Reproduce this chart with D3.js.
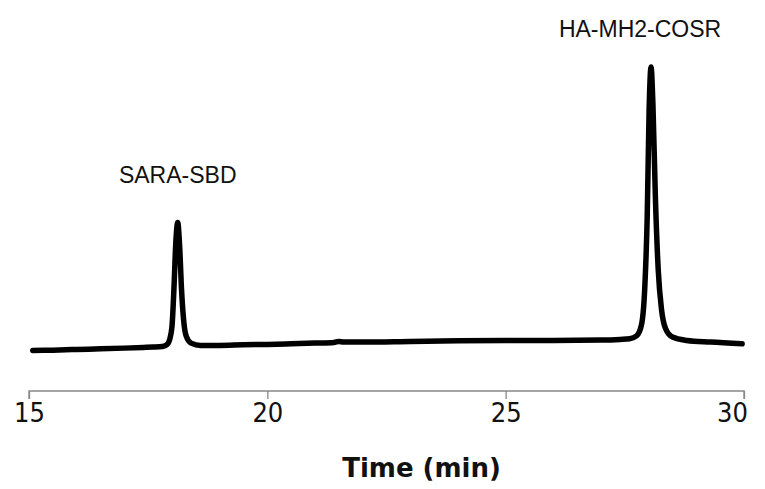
<!DOCTYPE html>
<html>
<head>
<meta charset="utf-8">
<script src="https://cdn.jsdelivr.net/npm/d3@7"></script>
<style>
  body { margin: 0; background: #fff; }
  svg { display: block; }
</style>
</head>
<body>
<svg id="chart"></svg>
<script>
// Chromatogram trace (time in min, signal in arbitrary units)
var times = [
    15.08, 15.5, 16.0, 16.5, 17.0, 17.4, 17.6, 17.8, 17.9, 17.95,
    18.0, 18.04, 18.08, 18.12, 18.16, 18.2, 18.25, 18.3, 18.4, 18.6,
    19.0, 19.5, 20.0, 20.5, 21.0, 21.4, 21.5, 21.6, 22.0, 23.0,
    24.0, 25.0, 26.0, 27.0, 27.4, 27.6, 27.75, 27.85, 27.92, 27.97,
    28.01, 28.05, 28.09, 28.14, 28.2, 28.27, 28.35, 28.5, 28.8, 29.3,
    29.96
];
var signal = [
    11.8, 11.9, 12.1, 12.3, 12.5, 12.7, 12.8, 13.0, 13.6, 15.0,
    19.0, 30.0, 44.0, 50.0, 43.0, 30.0, 20.0, 16.0, 14.0, 13.3,
    13.3, 13.5, 13.6, 13.8, 14.0, 14.2, 14.5, 14.3, 14.3, 14.5,
    14.7, 14.8, 14.8, 14.9, 15.1, 15.3, 16.2, 19.5, 31.0, 52.0,
    84.0, 96.4, 85.0, 58.0, 36.0, 24.0, 18.5, 15.8, 14.8, 14.3,
    13.8
];

// Peak labels
var peakNames = ["SARA-SBD", "HA-MH2-COSR"];
var peakTimes = [18.12, 28.05];

var xTicks = [15, 20, 25, 30];
var xTitle = "Time (min)";

var width = 765, height = 489;
var svg = d3.select("#chart")
    .attr("width", width)
    .attr("height", height);

// Scales
var x = d3.scaleLinear()
    .domain([15, 30])
    .range([29, 744]);

var y = d3.scaleLinear()
    .domain([0, 100])
    .range([390, 55]);

var trace = times.map(function(t, i) { return [t, signal[i]]; });

// X axis
var xAxis = d3.axisBottom(x)
    .tickValues(xTicks)
    .tickSize(8)
    .tickPadding(4)
    .tickFormat(d3.format("d"));

var axisG = svg.append("g")
    .attr("transform", "translate(0," + 391 + ")")
    .call(xAxis);

axisG.select(".domain")
    .attr("stroke", "#888")
    .attr("stroke-width", 1.3)
    .attr("d", "M" + x(15) + ",8V0H" + x(30) + "V8");
axisG.selectAll(".tick line")
    .attr("stroke", "#888")
    .attr("stroke-width", 1.3);
axisG.selectAll(".tick text")
    .attr("fill", "#111")
    .attr("dx", function(d) { return d == 30 ? -12 : 0; })
    .style("font-family", "'DejaVu Sans Condensed', 'DejaVu Sans', Verdana, sans-serif")
    .style("font-size", "27px");

// Axis title
svg.append("text")
    .attr("x", (x(15) + x(30)) / 2 + 35)
    .attr("y", 477)
    .attr("text-anchor", "middle")
    .style("font-family", "'DejaVu Sans', Verdana, sans-serif")
    .style("font-weight", "bold")
    .style("font-size", "26px")
    .attr("fill", "#111")
    .text(xTitle);

// Trace
var line = d3.line()
    .x(function(d) { return x(d[0]); })
    .y(function(d) { return y(d[1]); })
    .curve(d3.curveMonotoneX);

svg.append("path")
    .datum(trace)
    .attr("fill", "none")
    .attr("stroke", "#000")
    .attr("stroke-width", 5.5)
    .attr("stroke-linejoin", "round")
    .attr("stroke-linecap", "round")
    .attr("d", line);

// Peak labels
var labelY = [183, 37];
svg.selectAll(".peak-label")
    .data(peakNames)
    .join("text")
    .attr("class", "peak-label")
    .attr("x", function(d, i) { return x(peakTimes[i]) + (i == 1 ? -11 : 0); })
    .attr("y", function(d, i) { return labelY[i]; })
    .attr("text-anchor", "middle")
    .style("font-family", "'Liberation Sans', Arial, sans-serif")
    .style("font-size", "23px")
    .attr("fill", "#111")
    .text(function(d) { return d; });
</script>
</body>
</html>
